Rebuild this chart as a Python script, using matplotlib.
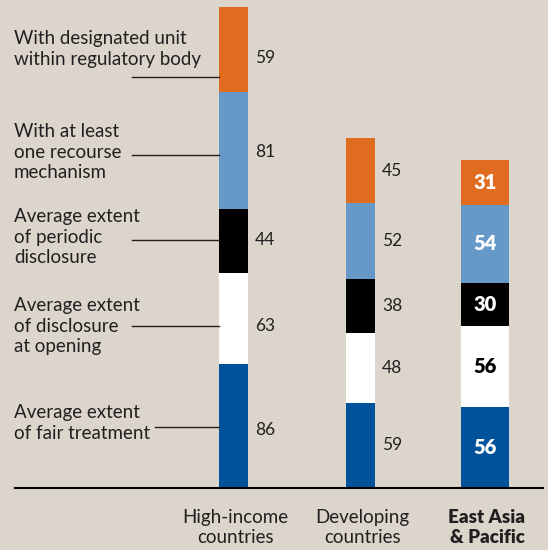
import matplotlib.pyplot as plt

# data
groups = ['High-income\ncountries', 'Developing\ncountries', 'East Asia\n& Pacific']
segments = ['Average extent\nof fair treatment',
            'Average extent\nof disclosure\nat opening',
            'Average extent\nof periodic\ndisclosure',
            'With at least\none recourse\nmechanism',
            'With designated unit\nwithin regulatory body']
high_income = [86, 63, 44, 81, 59]
developing = [59, 48, 38, 52, 45]
east_asia = [56, 56, 30, 54, 31]

colors = ['#00529b', '#ffffff', '#000000', '#6699c8', '#e06c1f']
bg = '#dcd5cc'

# layout (pixel units on x, value units on y)
x_pos = [233.5, 360.5, 485]
widths = [29, 29, 48]
px_per_unit = 481 / 333.0
base_px = 488


def px2y(p):
    # pixel row -> value units
    return (base_px - p) / px_per_unit


# left label placement in pixel rows (bottom segment first)
text_rows = [423, 326, 237, 152, 49]
leader_rows = [427, 326, 240, 155, 77]
leader_start = [155, 132, 132, 132, 132]
hi_value_rows = [430, 326, 240, 152, 58]

fig = plt.figure(figsize=(5.48, 5.5), dpi=100)
fig.patch.set_facecolor(bg)
ax = fig.add_axes([0, 0, 1, 1])
ax.set_facecolor(bg)
ax.set_xlim(0, 548)
ax.set_ylim(px2y(550), px2y(0))
ax.axis('off')

font = 'Lato'
ink = '#231f20'
all_vals = [high_income, developing, east_asia]

for gi, vals in enumerate(all_vals):
    bottom = 0
    for si, v in enumerate(vals):
        ax.bar(x_pos[gi], v, width=widths[gi], bottom=bottom,
               color=colors[si], linewidth=0)
        mid = bottom + v / 2.0
        if gi == 0:
            ax.text(x_pos[gi] + widths[gi] / 2 + 7, px2y(hi_value_rows[si]),
                    str(v), ha='left', va='center', fontsize=12.5,
                    family=font, color=ink)
        elif gi == 1:
            ax.text(x_pos[gi] + widths[gi] / 2 + 7, mid, str(v),
                    ha='left', va='center', fontsize=12.5, family=font,
                    color=ink)
        else:
            tc = '#000000' if colors[si] == '#ffffff' else '#ffffff'
            ax.text(x_pos[gi], mid, str(v), ha='center', va='center',
                    fontsize=14.5, fontweight='heavy', family=font, color=tc)
        bottom += v

# left labels with leader lines to the first bar
for si in range(len(segments)):
    yl = px2y(leader_rows[si])
    ax.plot([leader_start[si], x_pos[0] - widths[0] / 2], [yl, yl],
            color=ink, lw=1)
    ax.text(14, px2y(text_rows[si]), segments[si], ha='left', va='center',
            fontsize=13.5, family=font, color=ink, linespacing=1.27)

# baseline
ax.plot([15, 543], [0, 0], color='#000000', lw=1.5)

# group labels
for gi, g in enumerate(groups):
    ax.text(x_pos[gi] + 2, px2y(509), g, ha='center', va='top',
            fontsize=13.5, family=font, color=ink, linespacing=1.22,
            fontweight='heavy' if gi == 2 else 'normal')

fig.savefig('out.png', dpi=100, facecolor=bg)
